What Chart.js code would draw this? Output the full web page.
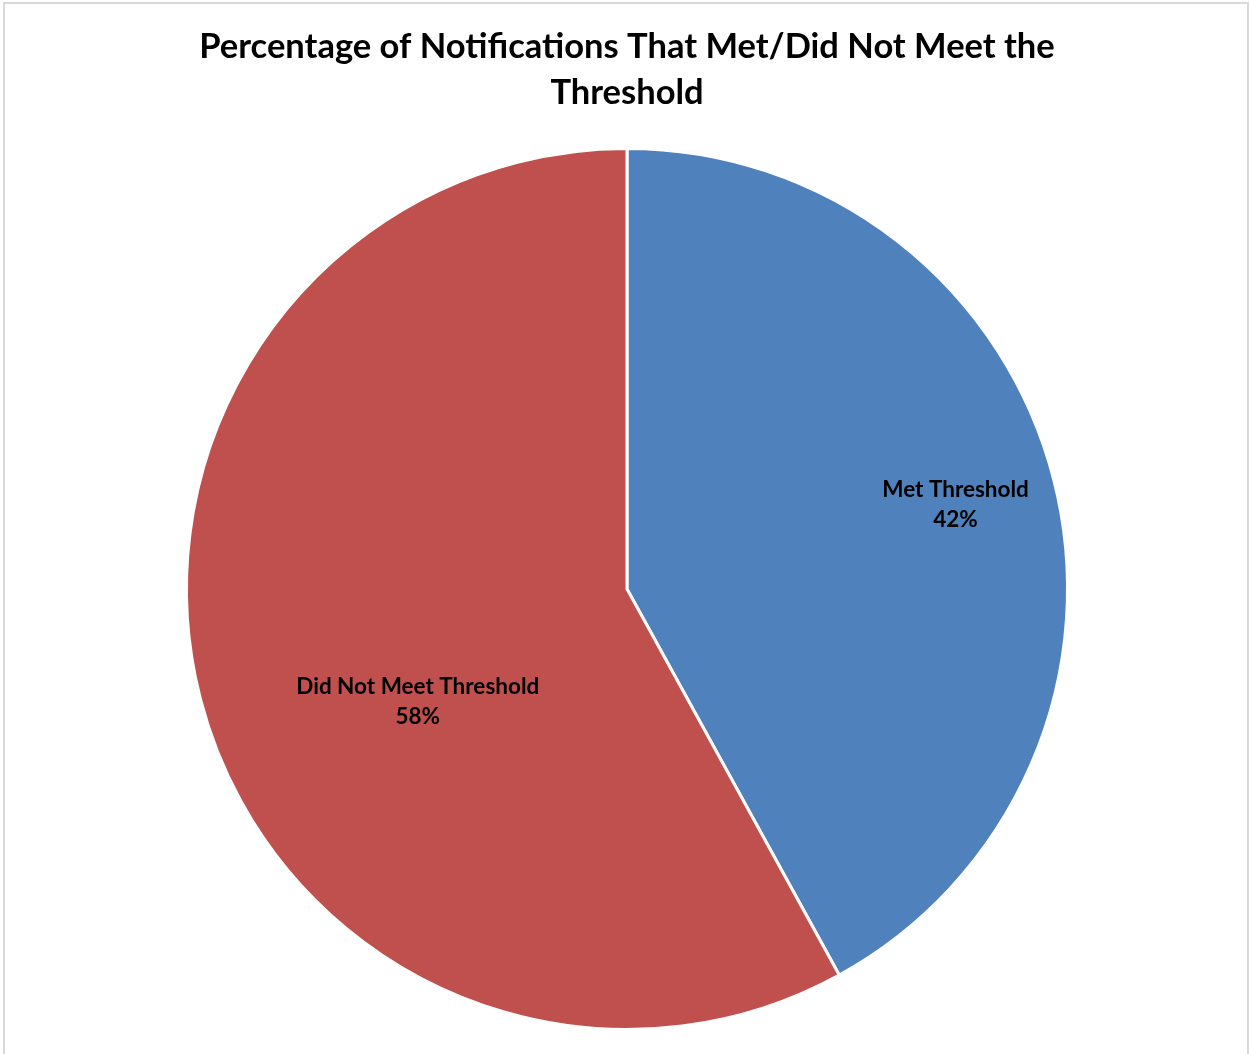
<!DOCTYPE html>
<html>
<head>
<meta charset="utf-8">
<script src="https://cdn.jsdelivr.net/npm/chart.js@4/dist/chart.umd.min.js"></script>
<style>
  html, body { margin: 0; padding: 0; background: #fff; }
  #wrap { position: relative; width: 1250px; height: 1054px; overflow: hidden; }
  #frame { position: absolute; left: 3px; top: 2px; width: 1242px; height: 1100px; border: 2px solid #d9d9d9; }
  #chart { position: absolute; left: 0; top: 0; }
</style>
</head>
<body>
<div id="wrap">
  <div id="frame"></div>
  <canvas id="chart" width="1250" height="1054"></canvas>
</div>
<script>
const titleLines = ["Percentage of Notifications That Met/Did Not Meet the", "Threshold"];
const categories = ["Met Threshold", "Did Not Meet Threshold"];
const percents = [42, 58];
const sliceColors = ["#4F81BD", "#C0504D"];

const fontFamily = "Lato, 'Open Sans', sans-serif";

// where Excel put each label: fraction of radius, and angle shift (deg) from slice middle
const labelSpots = [
  { frac: 0.77, shift: 0 },
  { frac: 0.54, shift: -14 },
];

const sliceLabels = {
  id: "sliceLabels",
  afterDatasetsDraw(chart) {
    const ctx = chart.ctx;
    const meta = chart.getDatasetMeta(0);
    ctx.save();
    ctx.fillStyle = "#000";
    ctx.font = `bold 22.5px ${fontFamily}`;
    ctx.textAlign = "center";
    ctx.textBaseline = "middle";
    meta.data.forEach((arc, i) => {
      const spot = labelSpots[i];
      const mid = (arc.startAngle + arc.endAngle) / 2 + spot.shift * Math.PI / 180;
      const r = arc.outerRadius * spot.frac;
      const x = arc.x + Math.cos(mid) * r;
      const y = arc.y + Math.sin(mid) * r;
      ctx.fillText(categories[i], x, y - 15);
      ctx.fillText(`${percents[i]}%`, x, y + 15);
    });
    ctx.restore();
  },
};

new Chart(document.getElementById("chart"), {
  type: "pie",
  data: {
    labels: categories,
    datasets: [{
      data: percents,
      backgroundColor: sliceColors,
      borderColor: "#ffffff",
      borderWidth: 3,
    }],
  },
  options: {
    responsive: false,
    animation: false,
    layout: { padding: { top: 0, bottom: 23, left: 4, right: 0 } },
    plugins: {
      legend: { display: false },
      tooltip: { enabled: false },
      title: {
        display: true,
        text: titleLines,
        color: "#000",
        font: { family: fontFamily, size: 34.5, weight: "bold", lineHeight: 1.333 },
        padding: { top: 24, bottom: 31 },
      },
    },
  },
  plugins: [sliceLabels],
});
</script>
</body>
</html>
